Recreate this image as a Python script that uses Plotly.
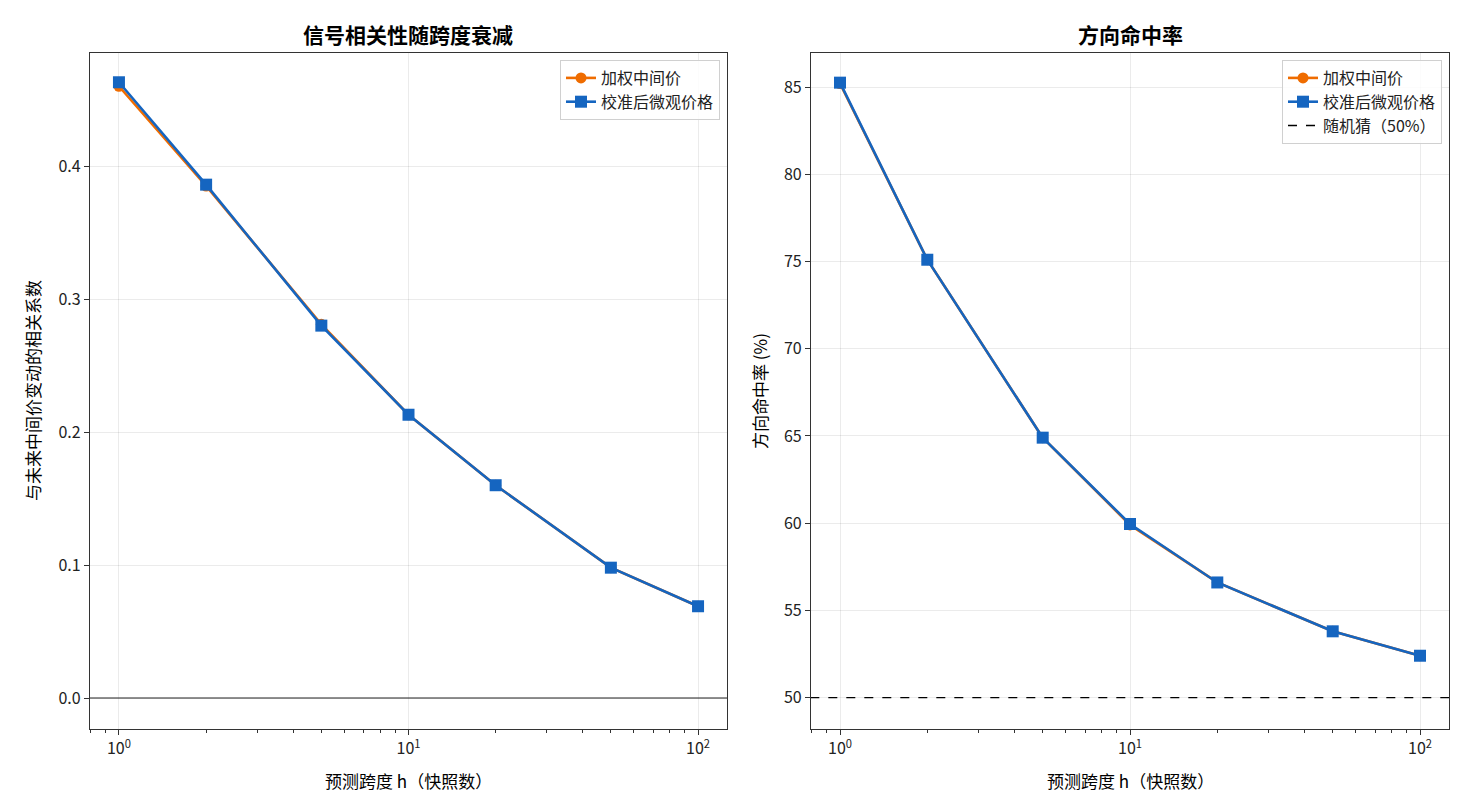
import plotly.graph_objects as go

# ---- data ----
horizons = [1, 2, 5, 10, 20, 50, 100]

# left panel: correlation with future mid-price change
corr_wmid = [0.460, 0.385, 0.281, 0.213, 0.160, 0.098, 0.069]
corr_micro = [0.463, 0.386, 0.280, 0.213, 0.160, 0.098, 0.069]

# right panel: directional hit rate (%)
hit_wmid = [85.2, 75.1, 64.9, 59.9, 56.6, 53.8, 52.4]
hit_micro = [85.25, 75.1, 64.9, 59.95, 56.6, 53.8, 52.4]
random_guess = 50

x_tickvals = [1, 10, 100]
x_ticktext = ["10<sup>0</sup>", "10<sup>1</sup>", "10<sup>2</sup>"]
corr_ticks = [0.0, 0.1, 0.2, 0.3, 0.4]
hit_ticks = [50, 55, 60, 65, 70, 75, 80, 85]

ORANGE = "#EF6C00"
BLUE = "#1565C0"
FONT = "Noto Sans CJK SC"

# the page puts the plot 8px in from the window corner, so shrink the
# figure and work in window pixels minus that offset
OFF = 8
W, H = 1470 - 2 * OFF, 812 - 2 * OFF
# panel boxes in window pixels (left, right, top, bottom)
box_l = (90, 727, 53, 729)
box_r = (811, 1449, 53, 729)


def px(x):
    return (x - OFF) / W


def py(y):
    return 1 - (y - OFF) / H


minor_vals = [m * 10 ** e for e in range(-1, 3) for m in range(2, 10)]
minor_vals = [v for v in minor_vals if 0.79 < v < 126]

fig = go.Figure()

# left panel
fig.add_trace(go.Scatter(
    x=horizons, y=corr_wmid, mode="lines+markers", name="加权中间价",
    line=dict(color=ORANGE, width=2.6),
    marker=dict(symbol="circle", size=11, color=ORANGE),
    xaxis="x", yaxis="y", legend="legend"))
fig.add_trace(go.Scatter(
    x=horizons, y=corr_micro, mode="lines+markers", name="校准后微观价格",
    line=dict(color=BLUE, width=2.6),
    marker=dict(symbol="square", size=12, color=BLUE),
    xaxis="x", yaxis="y", legend="legend"))

# right panel
fig.add_trace(go.Scatter(
    x=horizons, y=hit_wmid, mode="lines+markers", name="加权中间价",
    line=dict(color=ORANGE, width=2.6),
    marker=dict(symbol="circle", size=11, color=ORANGE),
    xaxis="x2", yaxis="y2", legend="legend2"))
fig.add_trace(go.Scatter(
    x=horizons, y=hit_micro, mode="lines+markers", name="校准后微观价格",
    line=dict(color=BLUE, width=2.6),
    marker=dict(symbol="square", size=12, color=BLUE),
    xaxis="x2", yaxis="y2", legend="legend2"))
fig.add_trace(go.Scatter(
    x=[0.79, 126], y=[random_guess, random_guess], mode="lines",
    name="随机猜（50%）", line=dict(color="black", width=1.3, dash="dash"),
    xaxis="x2", yaxis="y2", legend="legend2", hoverinfo="skip"))

axis_common = dict(
    showline=True, linecolor="#333333", linewidth=1.3, mirror=True,
    ticks="outside", ticklen=5, tickcolor="#333333",
    showgrid=True, gridcolor="rgba(0,0,0,0.08)", gridwidth=1,
    zeroline=False, tickfont=dict(size=16, color="#222222"),
)

xaxis_common = dict(
    axis_common, type="log", range=[-0.1, 2.1],
    tickvals=x_tickvals, ticktext=x_ticktext,
    minor=dict(ticks="outside", ticklen=3, tickcolor="#333333",
               tickvals=minor_vals, showgrid=False),
)

legend_style = dict(
    xanchor="right", yanchor="top",
    bgcolor="rgba(255,255,255,0.85)", bordercolor="#d0d0d0", borderwidth=1,
    font=dict(size=16), tracegroupgap=0, itemwidth=30,
)

fig.update_layout(
    width=W, height=H,
    margin=dict(l=0, r=0, t=0, b=0),
    paper_bgcolor="white", plot_bgcolor="white",
    font=dict(family=FONT, size=16, color="#222222"),
    showlegend=True,
    xaxis=dict(xaxis_common, domain=[px(box_l[0]), px(box_l[1])], anchor="y"),
    yaxis=dict(axis_common, domain=[py(box_l[3]), py(box_l[2])], anchor="x",
               range=[-0.0233, 0.485], tickvals=corr_ticks, tickformat=".1f"),
    xaxis2=dict(xaxis_common, domain=[px(box_r[0]), px(box_r[1])], anchor="y2"),
    yaxis2=dict(axis_common, domain=[py(box_r[3]), py(box_r[2])], anchor="x2",
                range=[48.2, 86.95], tickvals=hit_ticks),
    legend=dict(legend_style, x=px(box_l[1] - 7), y=py(box_l[2] + 7)),
    legend2=dict(legend_style, x=px(box_r[1] - 7), y=py(box_r[2] + 7)),
    shapes=[dict(type="line", xref="x domain", yref="y", x0=0, x1=1,
                 y0=0, y1=0, line=dict(color="#222222", width=1.2))],
)

# titles and axis titles placed at the reference pixel positions
labels = [
    ("<b>信号相关性随跨度衰减</b>", (box_l[0] + box_l[1]) / 2, 34, 0, 21),
    ("<b>方向命中率</b>", (box_r[0] + box_r[1]) / 2, 34, 0, 21),
    ("预测跨度 h（快照数）", (box_l[0] + box_l[1]) / 2, 780, 0, 17),
    ("预测跨度 h（快照数）", (box_r[0] + box_r[1]) / 2, 780, 0, 17),
    ("与未来中间价变动的相关系数", 32, (box_l[2] + box_l[3]) / 2, -90, 17),
    ("方向命中率 (%)", 759, (box_r[2] + box_r[3]) / 2, -90, 17),
]
for text, x, y, angle, size in labels:
    fig.add_annotation(text=text, xref="paper", yref="paper", x=px(x), y=py(y),
                       xanchor="center", yanchor="middle", showarrow=False,
                       textangle=angle, font=dict(size=size, color="black"))

fig.write_html("out.html")
